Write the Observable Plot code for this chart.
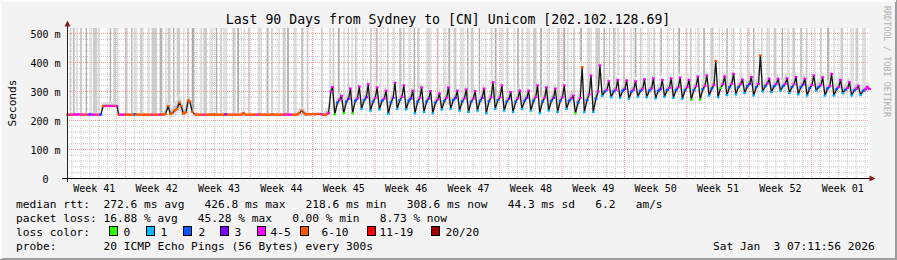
<!DOCTYPE html>
<html><head><meta charset="utf-8">
<script src="https://cdn.jsdelivr.net/npm/d3@7"></script>
<script src="https://cdn.jsdelivr.net/npm/@observablehq/plot@0.6"></script>
<style>
html,body{margin:0;padding:0;background:#f3f3f3}
#wrap{width:897px;height:260px;overflow:hidden}
svg text{white-space:pre}
</style></head><body><div id="wrap"></div><script>
// ---------------- data ----------------
const title = "Last 90 Days from Sydney to [CN] Unicom [202.102.128.69]";
const yLabel = "Seconds";
const weekLabels = ["Week 41","Week 42","Week 43","Week 44","Week 45","Week 46","Week 47","Week 48","Week 49","Week 50","Week 51","Week 52","Week 01"];
const weekMid = [3,10,17,24,31,38,45,52,59,66,73,80,87];          // day offset of label
const weekBounds = [6.5,13.5,20.5,27.5,34.5,41.5,48.5,55.5,62.5,69.5,76.5,83.5]; // day offset of week start
const yTicks = [0,100,200,300,400,500];
const yTickLabels = ["0\u00a0\u00a0","100 m","200 m","300 m","400 m","500 m"];
// sample phases within a day: trough, plateau start, plateau end, evening peak
const phases = [0, 0.3, 0.55, 0.75];
// median rtt in ms, one row per day (90 days)
const medianMs = [
 [220,220,220,221],[220,221,220,220],[220,220,221,220],[220,220,220,220],[250,250,250,250],
 [250,250,250,220],[220,220,220,220],[220,220,221,220],[220,220,220,220],[220,220,220,220],
 [220,220,221,220],[222,250,222,225],[234,240,262,250],[224,228,269,265],[230,221,220,220],
 [220,220,220,220],[220,221,220,220],[220,220,220,221],[220,220,220,220],[220,220,220,226],
 [220,220,220,220],[220,220,221,220],[220,220,220,220],[221,220,220,220],[220,220,221,220],
 [220,220,220,220],[225,234,225,221],[221,221,222,221],[222,222,221,219],[220,225,300,315],
 [221,262,272,285],[225,265,275,310],[225,268,276,317],[240,270,280,325],[234,265,278,314],
 [238,268,275,303],[223,262,278,330],[240,270,282,321],[238,268,276,303],[225,265,278,314],
 [229,265,276,301],[225,262,272,293],[238,268,278,314],[240,270,278,303],[234,266,276,307],
 [229,265,275,301],[234,268,278,310],[225,266,280,332],[240,270,280,321],[234,265,275,298],
 [229,265,276,303],[240,268,278,303],[234,268,280,321],[225,265,278,314],[234,268,278,310],
 [229,268,280,321],[240,268,276,286],[225,262,278,384],[229,270,290,355],[229,275,300,390],
 [285,300,306,335],[280,300,306,340],[278,302,308,338],[275,300,306,335],[282,302,308,342],
 [280,303,310,345],[276,302,308,340],[282,305,312,345],[278,305,314,348],[275,304,315,340],
 [272,305,318,352],[272,308,320,355],[286,310,322,405],[280,312,325,352],[288,315,326,361],
 [290,315,325,341],[295,318,326,350],[286,315,326,424],[300,318,328,344],[298,318,326,344],
 [303,318,326,345],[295,315,325,350],[290,315,324,344],[286,312,322,355],[303,315,322,349],
 [286,310,318,361],[286,308,315,340],[294,306,312,332],[286,304,310,320],[288,302,308,315]
];
const lastMedian = 308.6;
// loss bucket index of each sample (0 … 7), one string per day
const lossByDay = [
 "5454","4454","5424","4542","5454","4545","4455","5525","5555","5545",
 "5455","5555","5555","5555","5555","5455","5555","5553","5555","5555",
 "5555","5455","5555","5555","5454","4555","5555","5555","5545","5444",
 "0244","0234","0244","1234","1244","1244","1234","1244","1234","1244",
 "1234","1244","1244","1234","1244","1244","1234","1244","1244","1234",
 "1244","1234","1244","1244","1234","1244","1244","0245","1244","1244",
 "1244","1244","1234","1244","1244","1244","1234","1244","1244","1244",
 "0244","0244","1245","1044","1244","1244","1234","1245","1244","1244",
 "1244","1244","1234","1244","1244","1244","1244","1244","1244","1244"
];
// smoke spread (ms) per day
const smokeMs = [
 4,4,4,4,12,10,4,4,4,4, 4,20,30,25,6,4,4,4,4,6, 4,4,4,4,4,4,14,5,6,18,
 22,24,22,26,24,22,26,24,22,24, 22,24,26,22,24,22,24,26,22,24, 22,24,26,22,24,22,24,30,28,30,
 20,22,20,22,20,22,20,22,20,22, 22,24,26,22,24,22,24,26,22,24, 22,24,26,22,24,22,24,22,20,18
];
// tall smoke bars reaching the top: [start day, end day, density 1..3]
const spikes = [
 [0.3,0.45,2],[0.7,0.85,3],[1.0,1.25,1],[1.45,1.7,2],[2.1,2.25,3],[2.6,2.8,1],[2.9,3.4,2],[3.5,3.7,1],[4.8,4.95,3],[5.2,5.5,2],[5.6,5.8,1],
 [6.5,6.8,2],[7.2,7.35,3],[7.5,7.9,1],[8.2,8.5,2],[9.0,9.3,1],[9.5,10.1,2],[10.4,10.7,3],[11.0,11.2,1],[11.3,11.6,2],[11.9,12.05,3],
 [12.3,12.7,2],[13.0,13.2,1],[13.5,13.7,2],[14.0,14.3,3],[14.9,15.2,1],[15.3,15.7,2],[16.0,16.4,1],[16.7,16.85,3],[17.2,17.4,2],[17.6,18.0,1],
 [18.6,18.9,2],[19.1,19.3,3],[19.8,20.0,1],[20.3,20.5,2],[21.4,21.9,1],[22.4,22.6,3],[22.9,23.1,2],[23.7,23.9,1],[24.2,24.5,2],[24.7,24.9,3],[25.4,25.8,1],
 [26.3,26.45,3],[26.9,27.1,2],[28.5,28.7,2],[29.4,29.6,1],[29.8,30.0,2],[30.4,30.6,3],[31.0,31.2,1],[31.5,31.65,2],[31.9,32.1,1],[32.3,32.5,2],
 [33.1,33.3,1],[34.0,34.2,2],[34.7,34.85,3],[35.1,35.3,1],[35.9,36.1,2],[36.6,36.8,1],[37.3,37.45,3],[37.7,37.9,2],[38.3,38.5,1],[38.9,39.05,3],
 [39.3,39.5,2],[40.3,40.9,1],[41.5,41.7,2],[42.2,42.5,1],[42.8,43.0,3],[43.4,43.7,2],[44.1,44.5,1],[44.9,45.05,3],[45.3,45.6,2],[46.2,46.35,3],
 [46.9,47.1,1],[47.6,47.75,2],[48.0,48.2,3],[48.6,49.0,1],[49.3,49.5,2],[50.1,50.3,1],[50.5,50.7,3],[51.0,51.2,2],[51.6,52.0,1],[52.3,52.7,2],
 [53.1,53.3,3],[53.8,54.2,1],[55.0,55.3,2],[55.7,55.9,3],[56.1,56.3,1],[56.8,57.0,2],[57.6,57.8,3],[58.3,58.9,1],[59.3,59.8,2],
 [60.2,60.35,3],[60.8,60.95,2],[61.3,61.45,3],[61.7,62.0,1],[62.4,62.6,2],[63.2,63.4,1],[63.7,63.9,3],[64.3,64.45,2],[65.1,65.4,1],[65.8,66.0,2],
 [66.6,66.75,3],[67.3,67.5,1],[68.0,68.15,2],[68.6,68.8,3],[69.4,69.6,1],[69.9,70.1,2],[70.7,71.0,1],[71.4,71.6,3],[72.2,72.5,2],[73.1,73.3,1],
 [74.0,74.15,3],[74.7,74.9,2],[75.5,75.7,1],[76.3,76.5,2],[77.0,77.15,3],[77.9,78.05,2],[78.5,78.9,1],[79.3,79.6,2],[80.2,80.35,3],[80.8,81.1,1],
 [81.4,81.7,2],[82.3,82.45,3],[82.9,83.1,2],[83.8,84.0,1],[84.5,84.7,2],[85.3,85.5,3],[86.0,86.2,1],[86.8,87.1,2],[87.9,88.3,1],[88.5,88.8,2],[89.2,89.6,1]
];
const lossBuckets = ["0","1","2","3","4-5","6-10","11-19","20/20"];
const lossColors = ["#26ff00","#00b8ff","#0059ff","#7e00ff","#ff00ff","#ff5500","#ff0000","#a10000"];
const statsRtt  = "median rtt:  272.6 ms avg   426.8 ms max   218.6 ms min   308.6 ms now   44.3 ms sd   6.2   am/s";
const statsLoss = "packet loss: 16.88 % avg   45.28 % max   0.00 % min   8.73 % now";
const lossLabel = "loss color:";
const probeText = "probe:       20 ICMP Echo Pings (56 Bytes) every 300s";
const dateText  = "Sat Jan  3 07:11:56 2026";
const credit    = "RRDTOOL / TOBI OETIKER";

// ---------------- derived tables ----------------
const samples = [];
medianMs.forEach((row, d) => row.forEach((v, j) =>
  samples.push({t: d + phases[j], v, loss: +lossByDay[d][j], s: smokeMs[d]})));
samples.push({t: 90, v: lastMedian, loss: 4, s: smokeMs[89]});
const flatSegs = [];
for (let i = 0; i < samples.length - 1; i++) {
  const a = samples[i], b = samples[i + 1];
  if (Math.abs(a.v - b.v) <= 8) flatSegs.push({t1: a.t, v1: a.v, t2: b.t, v2: b.v, loss: a.loss});
}
const nearest = t => samples.reduce((m, s) => Math.abs(s.t - t) < Math.abs(m.t - t) ? s : m, samples[0]);
const spikeRows = spikes.map(([a, b, lvl]) => { const s = nearest((a + b) / 2); return {a, b, lvl, base: s.v + s.s * 0.6}; });
const spikeFill = ["", "#e0e0e0", "#cdcdcd", "#acacac"];
const yTop = 517;
const minorY = d3.range(20, 520, 20).filter(v => v % 100 !== 0);
const minorX = d3.range(0.5, 90, 1).filter(v => !weekBounds.includes(v));
const mono = "'DejaVu Sans Mono', monospace";

const chart = Plot.plot({
  width: 897, height: 260,
  marginLeft: 67, marginRight: 28, marginTop: 28, marginBottom: 82,
  style: {background: "#f3f3f3", fontFamily: mono, fontSize: "10px", color: "#000", overflow: "visible"},
  x: {domain: [0, 90], axis: null},
  y: {domain: [0, yTop], axis: null},
  marks: [
    Plot.frame({fill: "white", stroke: "none"}),
    Plot.rect(spikeRows, {x1: "a", x2: "b", y1: "base", y2: yTop, fill: d => spikeFill[d.lvl]}),
    Plot.areaY(samples, {x: "t", y1: d => d.v - d.s * 0.8, y2: d => d.v + d.s, fill: "#e2e2e2"}),
    Plot.areaY(samples, {x: "t", y1: d => d.v - d.s * 0.35, y2: d => d.v + d.s * 0.45, fill: "#c2c2c2"}),
    Plot.ruleY(minorY, {stroke: "#c8c8c8", strokeDasharray: "1,1"}),
    Plot.ruleX(minorX, {stroke: "#c8c8c8", strokeDasharray: "1,1"}),
    Plot.ruleY(yTicks.filter(v => v > 0), {stroke: "#f29a9a", strokeDasharray: "1,1"}),
    Plot.ruleX(weekBounds, {stroke: "#f29a9a", strokeDasharray: "1,1"}),
    Plot.line(samples, {x: "t", y: "v", stroke: "#151515", strokeWidth: 1.3}),
    Plot.link(flatSegs, {x1: "t1", y1: "v1", x2: "t2", y2: "v2", stroke: d => lossColors[d.loss], strokeWidth: 2}),
    Plot.link(samples, {x1: d => d.t - 0.16, x2: d => d.t + 0.16, y1: "v", y2: "v", stroke: d => lossColors[d.loss], strokeWidth: 2}),
    Plot.text(yTicks, {frameAnchor: "left", y: d => d, text: (d, i) => yTickLabels[i], textAnchor: "end", dx: -7, dy: 1.2, fill: "#000"}),
    Plot.text(weekMid, {frameAnchor: "bottom", x: d => d, text: (d, i) => weekLabels[i], lineAnchor: "top", dy: 6.4, fill: "#000"})
  ]
});
chart.style.display = "block";
document.getElementById("wrap").appendChild(chart);

// ---------------- decorations (frame, arrows, texts) ----------------
const svg = d3.select(chart);
const deco = svg.append("g").attr("text-anchor", "start");
deco.append("path").attr("d", "M0,259H896V0").attr("fill", "none").attr("stroke", "#9e9e9e").attr("stroke-width", 2);
deco.append("path").attr("d", "M1,259V1H896").attr("fill", "none").attr("stroke", "#fcfcfc").attr("stroke-width", 2);
deco.append("line").attr("x1", 62).attr("x2", 870).attr("y1", 178.5).attr("y2", 178.5).attr("stroke", "#000");
deco.append("line").attr("x1", 67.5).attr("x2", 67.5).attr("y1", 182).attr("y2", 26).attr("stroke", "#222");
deco.append("path").attr("d", "M64.5,26.5L67.5,20.5L70.5,26.5Z").attr("fill", "#8b1a1a");
deco.append("path").attr("d", "M869.5,175.5L875.5,178.5L869.5,181.5Z").attr("fill", "#8b1a1a");

const T = (x, y, s, size, extra = {}) => {
  const t = deco.append("text").attr("x", x).attr("y", y).text(s)
    .attr("font-family", mono).attr("font-size", size).attr("fill", extra.fill || "#000")
    .attr("text-anchor", extra.anchor || "start")
    .attr("xml:space", "preserve");
  if (extra.transform) t.attr("transform", extra.transform);
  return t;
};
T(448, 24, title, 13.2, {anchor: "middle"});
T(0, 0, yLabel, 11.2, {anchor: "middle", transform: "translate(15.5,103) rotate(-90)"});
T(0, 0, credit, 8.4, {fill: "#b0b0b0", transform: "translate(884,6) rotate(90)"});
T(16, 207.5, statsRtt, 11.2);
T(16, 221.5, statsLoss, 11.2);
T(16, 235.5, lossLabel, 11.2);
const sqX = [109,146,183,220,257,300,367,431];
const lbX = [124,161,199,235,271,322,380,446];
lossBuckets.forEach((b, i) => {
  deco.append("rect").attr("x", sqX[i] + 0.5).attr("y", 226.5).attr("width", 8).attr("height", 9)
    .attr("fill", lossColors[i]).attr("stroke", "#000");
  T(lbX[i] - 0.5, 235.5, b, 11.2);
});
T(16, 249.5, probeText, 11.2);
T(713, 249.5, dateText, 11.2);
</script></body></html>
